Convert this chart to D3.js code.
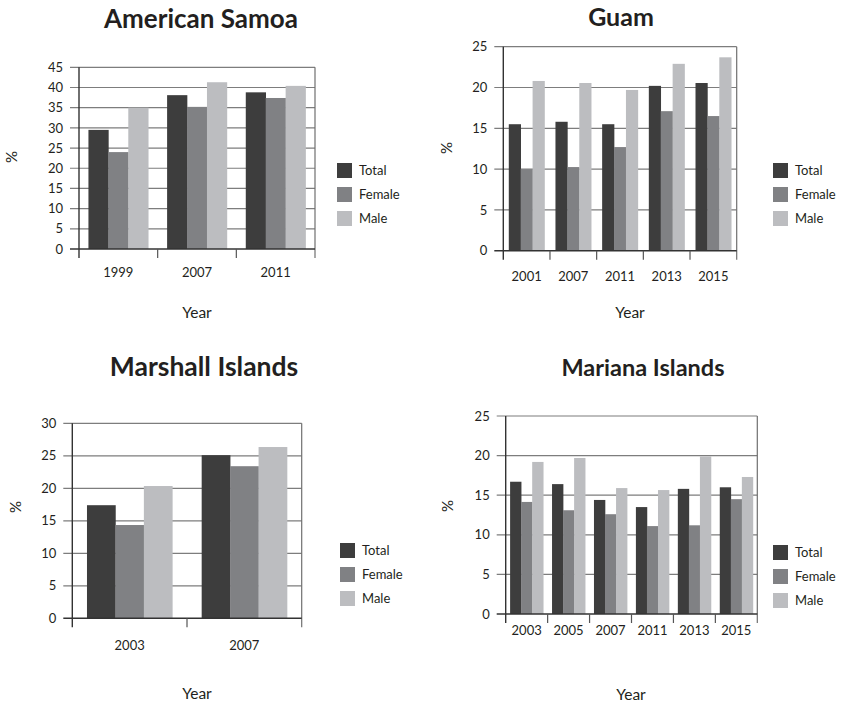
<!DOCTYPE html>
<html>
<head>
<meta charset="utf-8">
<script src="https://cdn.jsdelivr.net/npm/d3@7"></script>
<style>
  body { margin: 0; background: #fff; }
  text { font-family: Lato, "Open Sans", sans-serif; fill: #231f20; }
</style>
</head>
<body>
<svg id="chart" width="841" height="703"></svg>
<script>
// ---- data ----
const seriesNames = ["Total", "Female", "Male"];
const seriesColors = ["#3d3d3d", "#808184", "#bcbdc0"];

const samoaYears = ["1999", "2007", "2011"];
const samoaTotal = [29.5, 38.1, 38.8];
const samoaFemale = [24.0, 35.2, 37.4];
const samoaMale = [35.0, 41.3, 40.4];
const samoaTicks = [0, 5, 10, 15, 20, 25, 30, 35, 40, 45];

const guamYears = ["2001", "2007", "2011", "2013", "2015"];
const guamTotal = [15.5, 15.8, 15.5, 20.2, 20.55];
const guamFemale = [10.0, 10.25, 12.7, 17.1, 16.5];
const guamMale = [20.8, 20.55, 19.7, 22.9, 23.7];
const guamTicks = [0, 5, 10, 15, 20, 25];

const marshallYears = ["2003", "2007"];
const marshallTotal = [17.4, 25.1];
const marshallFemale = [14.35, 23.4];
const marshallMale = [20.35, 26.35];
const marshallTicks = [0, 5, 10, 15, 20, 25, 30];

const marianaYears = ["2003", "2005", "2007", "2011", "2013", "2015"];
const marianaTotal = [16.7, 16.4, 14.4, 13.5, 15.8, 16.0];
const marianaFemale = [14.15, 13.1, 12.6, 11.1, 11.2, 14.5];
const marianaMale = [19.2, 19.7, 15.9, 15.65, 19.9, 17.3];
const marianaTicks = [0, 5, 10, 15, 20, 25];

// ---- layout ----
const panels = [
  { title: "American Samoa", years: samoaYears, series: [samoaTotal, samoaFemale, samoaMale], ticks: samoaTicks,
    x0: 79, x1: 315, yTop: 67.3, yBase: 249, titleX: 201, titleY: 28, titleSize: 26,
    pctX: 12, pctY: 157, yearX: 197, yearY: 318, tickLabelDy: 28, legX: 337, legY: 163, pad: 0.24 },
  { title: "Guam", years: guamYears, series: [guamTotal, guamFemale, guamMale], ticks: guamTicks,
    x0: 503.3, x1: 736.7, yTop: 46.7, yBase: 250.7, titleX: 621, titleY: 26, titleSize: 25,
    pctX: 447, pctY: 148, yearX: 630, yearY: 318, tickLabelDy: 30, legX: 773, legY: 163, pad: 0.235 },
  { title: "Marshall Islands", years: marshallYears, series: [marshallTotal, marshallFemale, marshallMale], ticks: marshallTicks,
    x0: 72.3, x1: 301.7, yTop: 423.3, yBase: 618.3, titleX: 204, titleY: 376, titleSize: 26.5,
    pctX: 16, pctY: 507, yearX: 197, yearY: 699, tickLabelDy: 32, legX: 340, legY: 543, pad: 0.256 },
  { title: "Mariana Islands", years: marianaYears, series: [marianaTotal, marianaFemale, marianaMale], ticks: marianaTicks,
    x0: 505.7, x1: 757.3, yTop: 416, yBase: 614, titleX: 643, titleY: 376, titleSize: 23.5,
    pctX: 448, pctY: 506, yearX: 631, yearY: 700, tickLabelDy: 21, legX: 773, legY: 545, pad: 0.21 }
];

const svg = d3.select("#chart");

panels.forEach(p => {
  const g = svg.append("g");
  const maxV = d3.max(p.ticks);
  const y = d3.scaleLinear().domain([0, maxV]).range([p.yBase, p.yTop]);
  const x = d3.scaleBand().domain(p.years).range([p.x0, p.x1]).paddingInner(p.pad).paddingOuter(p.pad / 2);
  const xs = d3.scaleBand().domain(seriesNames).range([0, x.bandwidth()]);

  // gridlines + left ticks
  g.append("g").selectAll("line").data(p.ticks.filter(t => t > 0)).join("line")
    .attr("x1", p.x0 - 9).attr("x2", p.x1)
    .attr("y1", d => y(d)).attr("y2", d => y(d))
    .attr("stroke", "#7d7d7d").attr("stroke-width", 1.2);

  // y tick labels
  g.append("g").selectAll("text").data(p.ticks).join("text")
    .attr("x", p.x0 - 16).attr("y", d => y(d)).attr("dy", "0.36em")
    .attr("text-anchor", "end").attr("font-size", 13)
    .text(d => d);

  // bars
  p.series.forEach((vals, si) => {
    g.append("g").selectAll("rect").data(p.years).join("rect")
      .attr("x", (d) => x(d) + xs(seriesNames[si]))
      .attr("width", xs.bandwidth() + 0.3)
      .attr("y", (d, i) => y(vals[i]))
      .attr("height", (d, i) => y(0) - y(vals[i]))
      .attr("fill", seriesColors[si]);
  });

  // right border
  g.append("line").attr("x1", p.x1).attr("x2", p.x1).attr("y1", y(maxV)).attr("y2", y(0) + 9)
    .attr("stroke", "#6f6f6f").attr("stroke-width", 1.2);
  // left axis
  g.append("line").attr("x1", p.x0).attr("x2", p.x0).attr("y1", y(maxV)).attr("y2", y(0) + 9)
    .attr("stroke", "#333").attr("stroke-width", 1.4);
  // baseline
  g.append("line").attr("x1", p.x0 - 9).attr("x2", p.x1).attr("y1", y(0)).attr("y2", y(0))
    .attr("stroke", "#333").attr("stroke-width", 1.4);
  // category ticks
  const bounds = p.years.map(d => x(d) - x.step() * x.paddingInner() / 2).slice(1);
  g.append("g").selectAll("line").data(bounds).join("line")
    .attr("x1", d => d).attr("x2", d => d).attr("y1", y(0)).attr("y2", y(0) + 9)
    .attr("stroke", "#555").attr("stroke-width", 1.2);

  // x tick labels
  g.append("g").selectAll("text").data(p.years).join("text")
    .attr("x", d => x(d) + x.bandwidth() / 2).attr("y", y(0) + p.tickLabelDy)
    .attr("text-anchor", "middle").attr("font-size", 13)
    .text(d => d);

  // title
  g.append("text").attr("x", p.titleX).attr("y", p.titleY)
    .attr("text-anchor", "middle").attr("font-size", p.titleSize).attr("font-weight", "bold")
    .text(p.title);

  // axis titles
  g.append("text").attr("transform", `translate(${p.pctX},${p.pctY}) rotate(-90)`)
    .attr("text-anchor", "middle").attr("dy", "0.35em").attr("font-size", 15)
    .text("%");
  g.append("text").attr("x", p.yearX).attr("y", p.yearY)
    .attr("text-anchor", "middle").attr("font-size", 15.5)
    .text("Year");

  // legend
  const leg = g.append("g").attr("transform", `translate(${p.legX},${p.legY})`);
  seriesNames.forEach((s, i) => {
    leg.append("rect").attr("x", 0).attr("y", i * 24).attr("width", 15).attr("height", 15)
      .attr("fill", seriesColors[i]);
    leg.append("text").attr("x", 22).attr("y", i * 24 + 7.5).attr("dy", "0.36em")
      .attr("font-size", 13).text(s);
  });
});
</script>
</body>
</html>
